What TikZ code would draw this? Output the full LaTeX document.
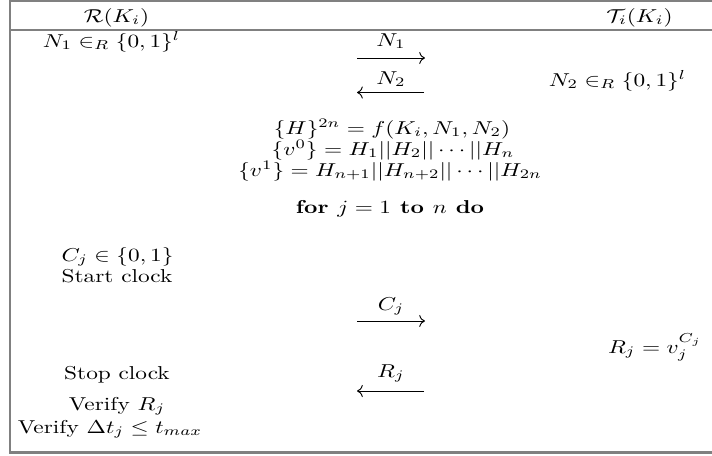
\documentclass[tikz,border=0pt]{standalone}
\usepackage{graphicx}
\usetikzlibrary{arrows.meta}
\definecolor{framegray}{RGB}{128,128,128}
\newcommand\sqz[1]{\scalebox{1}[0.8]{#1}}
\begin{document}
\begin{tikzpicture}[x=0.429pt,y=-0.429pt,
  frameline/.style={draw=framegray, line width=0.9pt},
  txt/.style={anchor=base, inner sep=0pt},
  msg/.style={line width=0.4pt, -{Computer Modern Rightarrow}}]
\useasboundingbox (0,0) rectangle (712,455);
% frame
\coordinate (tl) at (10,1);
\coordinate (tr) at (712,1);
\coordinate (hl) at (10,30);
\coordinate (hr) at (712,30);
\coordinate (bl) at (10,452.5);
\coordinate (br) at (712,452.5);
\draw[frameline] (tr) -- (tl) -- (bl) -- (br);
\draw[frameline] (hl) -- (hr);
% header
\node[txt] (hR) at (116.5,22) {\sqz{$\mathcal{R}(K_i)$}};
\node[txt] (hT) at (639.5,22) {\sqz{$\mathcal{T}_i(K_i)$}};
% nonces
\node[txt] (n1) at (111.5,47) {\sqz{$N_1 \in_R \{0,1\}^l$}};
\node[txt] (n2) at (617.5,86) {\sqz{$N_2 \in_R \{0,1\}^l$}};
\coordinate (a1s) at (357,58);
\coordinate (a1e) at (425,58);
\draw[msg] (a1s) -- (a1e);
\node[txt] (l1) at (391,46) {\sqz{$N_1$}};
\coordinate (a2s) at (424,92.5);
\coordinate (a2e) at (357,92.5);
\draw[msg] (a2s) -- (a2e);
\node[txt] (l2) at (391,84) {\sqz{$N_2$}};
% computation
\node[txt] (h1) at (392,134) {\sqz{$\{H\}^{2n} = f(K_i,N_1,N_2)$}};
\node[txt] (h2) at (393,155) {\sqz{$\{v^0\} = H_1||H_2||\cdots||H_n$}};
\node[txt] (h3) at (390,176) {\sqz{$\{v^1\} = H_{n+1}||H_{n+2}||\cdots||H_{2n}$}};
\node[txt] (for) at (390,213) {\sqz{$\textbf{for } j = 1 \textbf{ to } n \textbf{ do}$}};
% rounds
\node[txt] (cj) at (117.5,261) {\sqz{$C_j \in \{0,1\}$}};
\node[txt] (start) at (117,282) {\sqz{Start clock}};
\coordinate (a3s) at (357,321);
\coordinate (a3e) at (425,321);
\draw[msg] (a3s) -- (a3e);
\node[txt] (l3) at (391,310) {\sqz{$C_j$}};
\node[txt] (rj) at (655,353) {\sqz{$R_j = v_j^{C_j}$}};
\node[txt] (stop) at (117,379) {\sqz{Stop clock}};
\coordinate (a4s) at (424,391);
\coordinate (a4e) at (357,391);
\draw[msg] (a4s) -- (a4e);
\node[txt] (l4) at (391,377) {\sqz{$R_j$}};
\node[txt] (v1) at (117,410) {\sqz{Verify $R_j$}};
\node[txt] (v2) at (110,433) {\sqz{Verify $\Delta t_j \leq t_{max}$}};
\end{tikzpicture}
\end{document}
